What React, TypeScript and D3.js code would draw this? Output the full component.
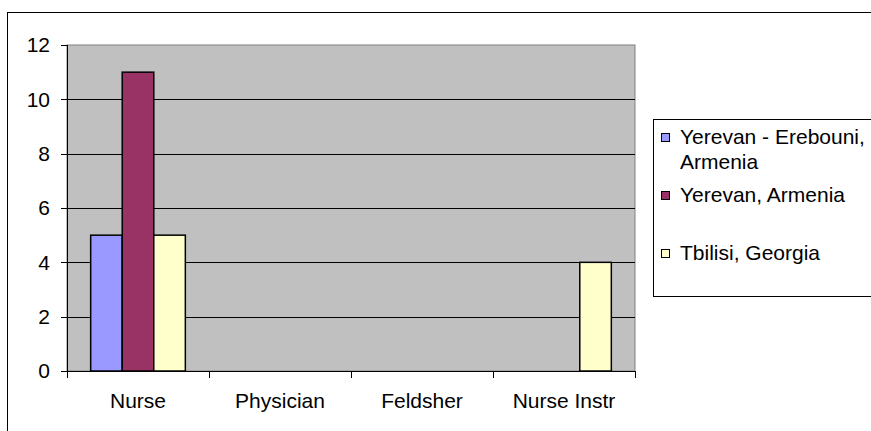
import React from "react";
import * as d3 from "d3";

const categories = ["Nurse", "Physician", "Feldsher", "Nurse Instr"];
const seriesNames = ["Yerevan - Erebouni, Armenia", "Yerevan, Armenia", "Tbilisi, Georgia"];
const erebouni = [5, 0, 0, 0];
const yerevan = [11, 0, 0, 0];
const tbilisi = [5, 0, 0, 4];
const yTicks = [0, 2, 4, 6, 8, 10, 12];
const colors = ["#9999FF", "#993366", "#FFFFCC"];

const W = 871;
const H = 431;
const plot = { left: 67, right: 635, top: 45, bottom: 371 };

export default function App() {
  const series = [erebouni, yerevan, tbilisi];
  const x = d3.scaleBand<string>().domain(categories).range([plot.left, plot.right]).paddingInner(0).paddingOuter(0);
  const xInner = d3
    .scaleBand<number>()
    .domain([0, 1, 2])
    .range([0, x.bandwidth()])
    .paddingOuter(0.75)
    .paddingInner(0);
  const y = d3.scaleLinear().domain([0, 12]).range([plot.bottom, plot.top]);
  const font = "'Liberation Sans', Arial, sans-serif";
  const boundaries = categories.map((c) => x(c)!).concat([plot.right]);

  return (
    <svg
      width={W}
      height={H}
      style={{ position: "absolute", left: 0, top: 0, background: "#fff" }}
      fontFamily={font}
    >
      <rect x={7.5} y={12.5} width={W} height={H} fill="#fff" stroke="#000" strokeWidth={1} />
      <rect
        x={plot.left}
        y={plot.top}
        width={plot.right - plot.left}
        height={plot.bottom - plot.top}
        fill="#C0C0C0"
        stroke="#808080"
        strokeWidth={1}
      />
      {yTicks.map((t) => (
        <g key={t}>
          {t > 0 && t < 12 && (
            <line x1={plot.left} x2={plot.right} y1={Math.round(y(t)) + 0.5} y2={Math.round(y(t)) + 0.5} stroke="#000" strokeWidth={1} />
          )}
          <line x1={plot.left - 6} x2={plot.left} y1={Math.round(y(t)) + 0.5} y2={Math.round(y(t)) + 0.5} stroke="#000" />
          <text x={50} y={y(t)} dy="0.35em" textAnchor="end" fontSize={21} fill="#000">
            {t}
          </text>
        </g>
      ))}
      {series.map((vals, si) =>
        categories.map((c, ci) =>
          vals[ci] > 0 ? (
            <rect
              key={`${si}-${ci}`}
              x={x(c)! + xInner(si)!}
              y={y(vals[ci])}
              width={xInner.bandwidth()}
              height={y(0) - y(vals[ci])}
              fill={colors[si]}
              stroke="#000"
              strokeWidth={1.5}
            />
          ) : null
        )
      )}
      <line x1={plot.left + 0.5} x2={plot.left + 0.5} y1={plot.top} y2={plot.bottom + 6} stroke="#000" />
      <line x1={plot.left - 6} x2={plot.right} y1={plot.bottom + 0.5} y2={plot.bottom + 0.5} stroke="#000" />
      {boundaries.map((b, i) => (
        <line key={i} x1={b + 0.5} x2={b + 0.5} y1={plot.bottom} y2={plot.bottom + 7} stroke="#000" />
      ))}
      {categories.map((c) => (
        <text key={c} x={x(c)! + x.bandwidth() / 2} y={408} textAnchor="middle" fontSize={21} fill="#000">
          {c}
        </text>
      ))}
      <rect x={653.5} y={119.5} width={260} height={177} fill="#fff" stroke="#000" strokeWidth={1} />
      {[
        { lines: ["Yerevan - Erebouni,", "Armenia"], y: 144 },
        { lines: ["Yerevan, Armenia"], y: 202 },
        { lines: ["Tbilisi, Georgia"], y: 260 },
      ].map((item, i) => (
        <g key={i}>
          <rect x={661.5} y={item.y - 10.5} width={8} height={8} fill={colors[i]} stroke="#000" strokeWidth={1} />
          {item.lines.map((ln, li) => (
            <text key={li} x={680} y={item.y + li * 25} fontSize={21} fill="#000">
              {ln}
            </text>
          ))}
        </g>
      ))}
    </svg>
  );
}
